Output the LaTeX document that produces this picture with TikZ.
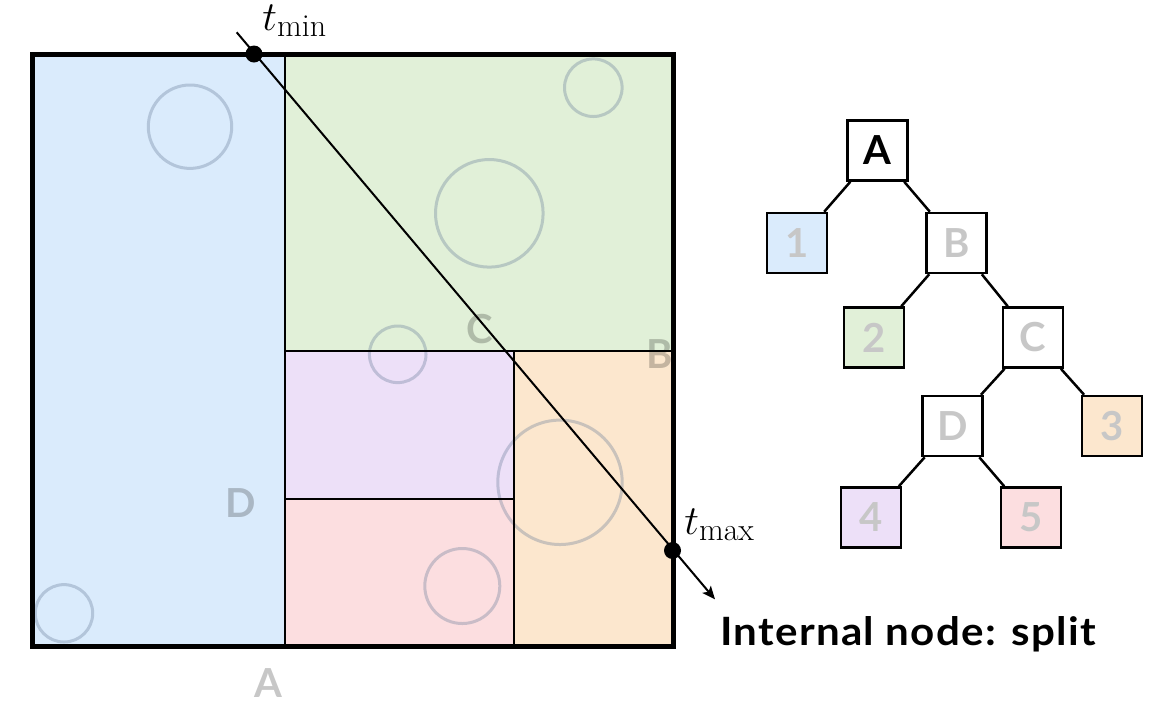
\documentclass[tikz,border=0pt]{standalone}
\usepackage{fontspec}
\newfontfamily\lato{Lato}
\newfontfamily\latosp{Lato}[LetterSpace=3]
\usetikzlibrary{arrows.meta}
\definecolor{cblue}{RGB}{218,235,252}
\definecolor{cgreen}{RGB}{225,240,216}
\definecolor{cpurple}{RGB}{237,224,248}
\definecolor{cpink}{RGB}{252,222,224}
\definecolor{corange}{RGB}{252,231,206}
\definecolor{cblob}{RGB}{100,120,150}
\newcommand{\subtxt}[1]{\mbox{\fontsize{16}{18}\selectfont #1}}
\tikzset{
  splitline/.style={line width=1pt, draw=black},
  blob/.style={draw=cblob, line width=1.5pt, draw opacity=0.33, fill=none},
  splitlabel/.style={anchor=base west, inner sep=0pt, text=black, text opacity=0.22,
     font=\lato\bfseries\fontsize{20}{24}\selectfont},
  treebox/.style={draw=black, line width=1.25pt, minimum size=30pt, inner sep=0pt,
     font=\lato\bfseries\fontsize{20}{24}\selectfont, text=black!22},
  treeedge/.style={line width=1.25pt, draw=black},
  dotnode/.style={circle, fill=black, minimum size=8.5pt, inner sep=0pt},
  tlabel/.style={anchor=base west, inner sep=0pt, font=\fontsize{22}{26}\selectfont},
}
\begin{document}
\begin{tikzpicture}[x=0.5pt,y=-0.5pt]
\useasboundingbox (0,0) rectangle (1170,720);
% regions
\fill[cblue]   (32.5,54.5) rectangle (285,646.5);
\fill[cgreen]  (285,54.5) rectangle (673.5,351);
\fill[cpurple] (285,351) rectangle (514,499);
\fill[cpink]   (285,499) rectangle (514,646.5);
\fill[corange] (514,351) rectangle (673.5,646.5);
% primitives
\draw[blob] (190,126.7) circle[radius=41.7];
\draw[blob] (64,613.3) circle[radius=28.7];
\draw[blob] (593.3,87.7) circle[radius=28.8];
\draw[blob] (489.3,213.3) circle[radius=53.8];
\draw[blob] (397.7,354.3) circle[radius=28.3];
\draw[blob] (560,482.3) circle[radius=62.2];
\draw[blob] (462.3,586) circle[radius=37.5];
% split lines
\draw[splitline] (285,54.5) -- (285,646.5);
\draw[splitline] (285,351) -- (673.5,351);
\draw[splitline] (514,351) -- (514,646.5);
\draw[splitline] (285,499) -- (514,499);
% outer border
\draw[line width=2.5pt] (32.5,54.5) rectangle (673.5,646.5);
% split labels
\node[splitlabel] (lA) at (254,697) {A};
\node[splitlabel] (lB) at (646,368) {B};
\node[splitlabel] (lC) at (466,343) {C};
\node[splitlabel] (lD) at (225,517) {D};
% ray
\coordinate (rs) at (236.7,32.3);
\coordinate (re) at (715,599.3);
\draw[line width=1pt, -{Stealth[length=6.5pt,width=5.5pt,inset=1.5pt]}] (rs) -- (re);
\node[dotnode] (tmin) at (254,54) {};
\node[dotnode] (tmax) at (672.5,550.5) {};
\node[tlabel] (ltmin) at (262,30) {$t_{\subtxt{min}}$};
\node[tlabel] (ltmax) at (684,534) {$t_{\subtxt{max}}$};
% tree
\node[treebox, fill=white, text=black] (tA) at (877.5,150.5) {A};
\node[treebox, fill=cblue] (t1) at (797,243) {1};
\node[treebox, fill=white] (tB) at (956.5,243) {B};
\node[treebox, fill=cgreen] (t2) at (874,337.5) {2};
\node[treebox, fill=white] (tC) at (1033,337.5) {C};
\node[treebox, fill=white] (tD) at (952.5,426) {D};
\node[treebox, fill=corange] (t3) at (1112,426) {3};
\node[treebox, fill=cpurple] (t4) at (871,517.5) {4};
\node[treebox, fill=cpink] (t5) at (1031,517.5) {5};
\draw[treeedge] (tA) -- (t1);
\draw[treeedge] (tA) -- (tB);
\draw[treeedge] (tB) -- (t2);
\draw[treeedge] (tB) -- (tC);
\draw[treeedge] (tC) -- (tD);
\draw[treeedge] (tC) -- (t3);
\draw[treeedge] (tD) -- (t4);
\draw[treeedge] (tD) -- (t5);
% caption
\node[anchor=base west, inner sep=0pt] (cap) at (720,645)
  {\scalebox{1.08}[1]{\latosp\bfseries\fontsize{19.5}{23}\selectfont Internal node: split}};
\end{tikzpicture}
\end{document}
